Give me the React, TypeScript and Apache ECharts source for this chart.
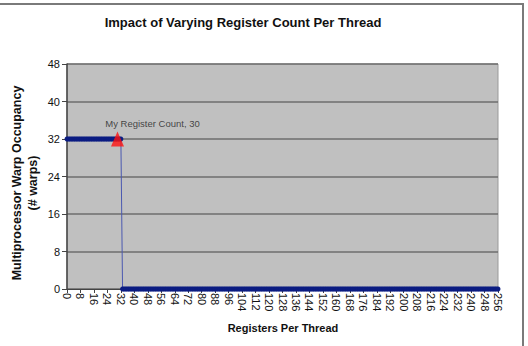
import React, { useEffect, useRef } from "react";
import * as echarts from "echarts";

// Register counts per thread on the category axis (0 .. 256)
const registerCounts: string[] = Array.from({ length: 257 }, (_, i) => String(i));

// Resident warps per multiprocessor for each register count
const warpOccupancy: number[] = [
  32, 32, 32, 32, 32, 32, 32, 32, 32, 32, 32, 32, 32, 32, 32, 32,
  32, 32, 32, 32, 32, 32, 32, 32, 32, 32, 32, 32, 32, 32, 32, 32,
  32, 0, 0, 0, 0, 0, 0, 0, 0, 0, 0, 0, 0, 0, 0, 0,
  0, 0, 0, 0, 0, 0, 0, 0, 0, 0, 0, 0, 0, 0, 0, 0,
  0, 0, 0, 0, 0, 0, 0, 0, 0, 0, 0, 0, 0, 0, 0, 0,
  0, 0, 0, 0, 0, 0, 0, 0, 0, 0, 0, 0, 0, 0, 0, 0,
  0, 0, 0, 0, 0, 0, 0, 0, 0, 0, 0, 0, 0, 0, 0, 0,
  0, 0, 0, 0, 0, 0, 0, 0, 0, 0, 0, 0, 0, 0, 0, 0,
  0, 0, 0, 0, 0, 0, 0, 0, 0, 0, 0, 0, 0, 0, 0, 0,
  0, 0, 0, 0, 0, 0, 0, 0, 0, 0, 0, 0, 0, 0, 0, 0,
  0, 0, 0, 0, 0, 0, 0, 0, 0, 0, 0, 0, 0, 0, 0, 0,
  0, 0, 0, 0, 0, 0, 0, 0, 0, 0, 0, 0, 0, 0, 0, 0,
  0, 0, 0, 0, 0, 0, 0, 0, 0, 0, 0, 0, 0, 0, 0, 0,
  0, 0, 0, 0, 0, 0, 0, 0, 0, 0, 0, 0, 0, 0, 0, 0,
  0, 0, 0, 0, 0, 0, 0, 0, 0, 0, 0, 0, 0, 0, 0, 0,
  0, 0, 0, 0, 0, 0, 0, 0, 0, 0, 0, 0, 0, 0, 0, 0,
  0,
];

// Highlighted kernel: registers used and resulting occupancy
const myRegisterCount = 30;
const myOccupancy = 32;
const myLabel = "My Register Count, 30";

const FONT = "'Liberation Sans', Arial, Helvetica, sans-serif";

export default function App() {
  const ref = useRef<HTMLDivElement>(null);

  useEffect(() => {
    if (!ref.current) return;
    const chart = echarts.init(ref.current, null, { renderer: "svg" });
    chart.setOption({
      animation: false,
      backgroundColor: "#ffffff",
      textStyle: { fontFamily: FONT },
      grid: {
        left: 67,
        right: 30,
        top: 64,
        bottom: 57,
        show: true,
        backgroundColor: "#c0c0c0",
        borderColor: "#9a9a9a",
        borderWidth: 1,
      },
      xAxis: {
        type: "category",
        data: registerCounts,
        boundaryGap: false,
        axisLine: { lineStyle: { color: "#444", width: 1 } },
        axisTick: { interval: 7, length: 4, lineStyle: { color: "#444" } },
        axisLabel: {
          interval: 7,
          rotate: -90,
          fontSize: 11,
          color: "#111",
          margin: 4,
          fontFamily: FONT,
        },
        splitLine: { show: false },
      },
      yAxis: {
        type: "value",
        min: 0,
        max: 48,
        interval: 8,
        axisLine: { show: true, lineStyle: { color: "#444", width: 1.5 } },
        axisTick: { show: true, length: 5, lineStyle: { color: "#444" } },
        axisLabel: { fontSize: 11, color: "#111", margin: 7, fontFamily: FONT },
        splitLine: { show: true, lineStyle: { color: "#6e6e6e", width: 1.5 } },
      },
      series: [
        {
          type: "line",
          data: warpOccupancy,
          symbol: "circle",
          symbolSize: 5,
          showSymbol: true,
          showAllSymbol: true,
          lineStyle: { color: "#4a58b0", width: 1 },
          itemStyle: { color: "#0b1c82" },
          z: 3,
        },
        {
          type: "scatter",
          data: [[myRegisterCount, myOccupancy]],
          symbol: "triangle",
          symbolSize: [13, 15],
          itemStyle: { color: "#ff1010" },
          label: {
            show: true,
            formatter: myLabel,
            position: "top",
            offset: [35, 2],
            fontSize: 9.5,
            color: "#222",
            fontFamily: FONT,
          },
          z: 5,
        },
      ],
      graphic: [
        {
          type: "line",
          shape: { x1: 0, y1: 4, x2: 523, y2: 4 },
          style: { stroke: "#7a7a7a", lineWidth: 2 },
        },
        {
          type: "line",
          shape: { x1: 523, y1: 3, x2: 523, y2: 346 },
          style: { stroke: "#7a7a7a", lineWidth: 2 },
        },
        {
          type: "text",
          x: 243,
          y: 22,
          style: {
            text: "Impact of Varying Register Count Per Thread",
            font: `bold 13px ${FONT}`,
            fill: "#111",
            align: "center",
            verticalAlign: "middle",
          },
        },
        {
          type: "text",
          x: 25,
          y: 183,
          rotation: Math.PI / 2,
          style: {
            text: "Multiprocessor Warp Occupancy\n(# warps)",
            font: `bold 12.5px ${FONT}`,
            fill: "#111",
            align: "center",
            verticalAlign: "middle",
            lineHeight: 16,
          },
        },
        {
          type: "text",
          x: 283,
          y: 328,
          style: {
            text: "Registers Per Thread",
            font: `bold 11px ${FONT}`,
            fill: "#111",
            align: "center",
            verticalAlign: "middle",
          },
        },
      ],
    });
    return () => chart.dispose();
  }, []);

  return (
    <div
      ref={ref}
      style={{ position: "absolute", left: 0, top: 0, width: 528, height: 346 }}
    />
  );
}
